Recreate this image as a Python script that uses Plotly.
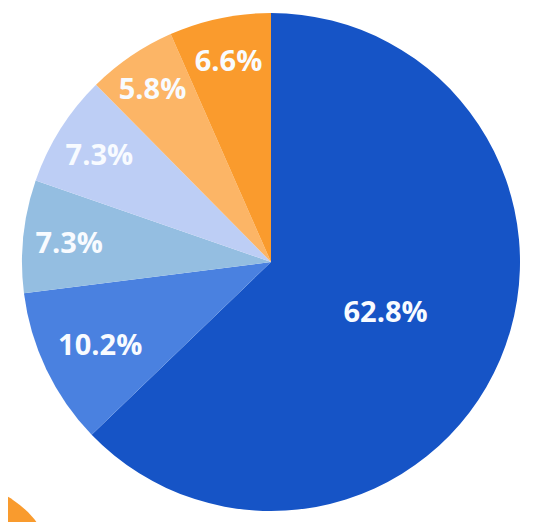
import plotly.graph_objects as go

# slices, clockwise from 12 o'clock
labels = ["A", "B", "C", "D", "E", "F"]
values = [62.8, 10.2, 7.3, 7.3, 5.8, 6.6]
text_labels = ["62.8%", "10.2%", "7.3%", "7.3%", "5.8%", "6.6%"]
colors = ["#1654c6", "#4a81e0", "#94bee1", "#bdcef5", "#fcb566", "#fa9b2d"]

W, H = 540, 522
OFF = 8  # page body margin pushes the figure 8px right and down

# pie box in window pixels: left 22, right 520, top 13, bottom 511
px0, px1, py0, py1 = 22 - OFF, 520 - OFF, 13 - OFF, 511 - OFF

fig = go.Figure(
    go.Pie(
        labels=labels,
        values=values,
        text=text_labels,
        textinfo="text",
        textposition="inside",
        insidetextorientation="horizontal",
        sort=False,
        direction="clockwise",
        rotation=0,
        marker=dict(colors=colors, line=dict(width=0)),
        textfont=dict(family="Open Sans", size=29, color="#f8fbff", weight=700),
        hoverinfo="skip",
        domain=dict(x=[px0 / W, px1 / W], y=[1 - py1 / H, 1 - py0 / H]),
    )
)

# orange blob peeking in at the bottom-left corner (centre -48,572 r 96 px)
fig.add_shape(
    type="circle",
    xref="paper",
    yref="paper",
    x0=-144 / W,
    x1=48 / W,
    y0=1 - 668 / H,
    y1=1 - 476 / H,
    fillcolor="#f99b2e",
    line_width=0,
    layer="below",
)

fig.update_layout(
    width=W,
    height=H,
    showlegend=False,
    margin=dict(l=0, r=0, t=0, b=0),
    paper_bgcolor="white",
    plot_bgcolor="white",
    uniformtext=dict(minsize=29, mode="show"),
)

fig.write_html("out.html")
